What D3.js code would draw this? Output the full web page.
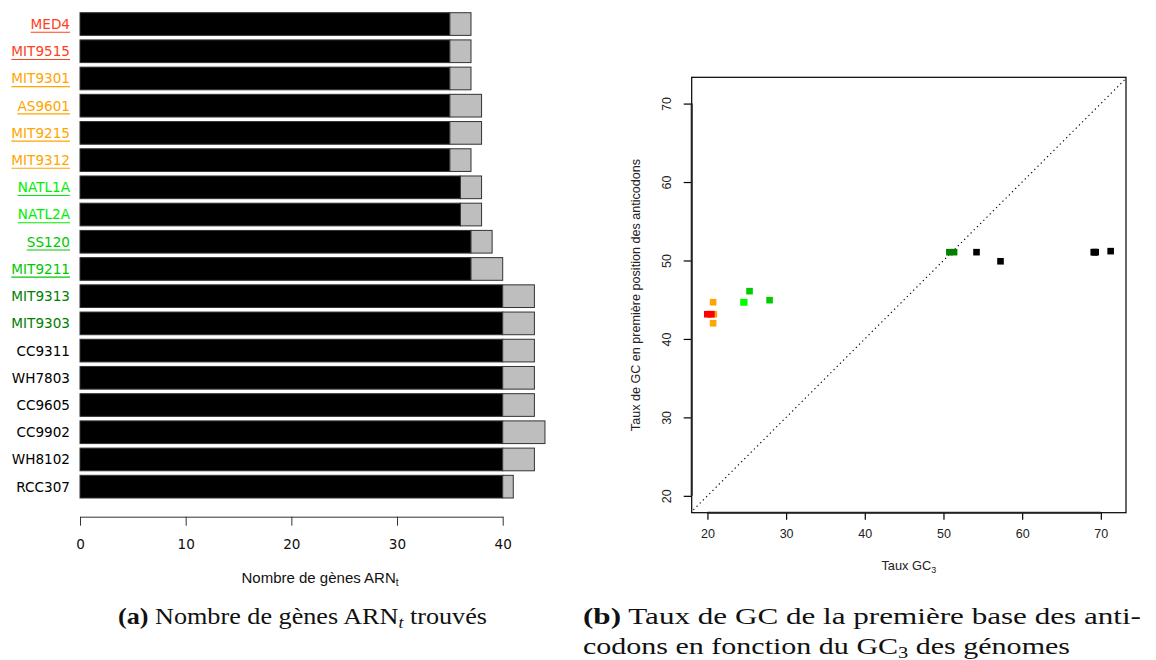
<!DOCTYPE html>
<html>
<head>
<meta charset="utf-8">
<script src="https://cdn.jsdelivr.net/npm/d3@7"></script>
<style>
  html, body { margin: 0; padding: 0; background: #fff; }
  svg { display: block; }
</style>
</head>
<body>
<svg id="chart" width="1156" height="660"></svg>
<script>
// ---------- data: panel (a) ----------
const strains = ["MED4","MIT9515","MIT9301","AS9601","MIT9215","MIT9312","NATL1A","NATL2A","SS120","MIT9211","MIT9313","MIT9303","CC9311","WH7803","CC9605","CC9902","WH8102","RCC307"];
const blackCounts = [35,35,35,35,35,35,36,36,37,37,40,40,40,40,40,40,40,40];
const greyCounts  = [2,2,2,3,3,2,2,2,2,3,3,3,3,3,3,4,3,1];
const labelColors = ["#ff4020","#ff4020","#ffa500","#ffa500","#ffa500","#ffa500","#00ee00","#00ee00","#00c800","#00c800","#008000","#008000","#000","#000","#000","#000","#000","#000"];
const underlined  = [true,true,true,true,true,true,true,true,true,true,false,false,false,false,false,false,false,false];
const barTicks = [0,10,20,30,40];

// ---------- data: panel (b) ----------
const gc3Values  = [19.98,20.5,20.72,20.3,20.81,20.72,24.58,24.68,25.35,27.9,50.75,51.35,54.2,57.25,69.1,69.35,69.22,71.25];
const gcAnticod  = [43.15,43.15,44.68,43.15,43.15,42.0,44.68,44.68,46.09,44.94,51.06,51.06,51.06,49.9,51.06,51.06,51.06,51.19];
const pointColors = ["#ff0000","#ff0000","#ffa500","#ffa500","#ffa500","#ffa500","#00ff00","#00ff00","#00cd00","#00cd00","#008000","#008000","#000","#000","#000","#000","#000","#000"];
const scatterTicks = [20,30,40,50,60,70];

const svg = d3.select("#chart");

// ================= Panel (a): horizontal stacked bars =================
const xBar = d3.scaleLinear().domain([0, 40]).range([80, 502.7]);
const yBar = d3.scaleBand().domain(strains).range([12.7, 498]).paddingInner(1/6).paddingOuter(0);

const gA = svg.append("g");
gA.selectAll("rect.black").data(strains).join("rect")
  .attr("x", xBar(0))
  .attr("y", d => yBar(d))
  .attr("width", (d,i) => xBar(blackCounts[i]) - xBar(0))
  .attr("height", yBar.bandwidth())
  .attr("fill", "#000").attr("stroke", "#333").attr("stroke-width", 1);
gA.selectAll("rect.grey").data(strains).join("rect")
  .attr("x", (d,i) => xBar(blackCounts[i]))
  .attr("y", d => yBar(d))
  .attr("width", (d,i) => xBar(blackCounts[i] + greyCounts[i]) - xBar(blackCounts[i]))
  .attr("height", yBar.bandwidth())
  .attr("fill", "#bebebe").attr("stroke", "#333").attr("stroke-width", 1);

// category labels
const lab = gA.selectAll("g.lab").data(strains).join("g")
  .attr("transform", d => `translate(70,${yBar(d) + yBar.bandwidth()/2})`);
lab.append("text")
  .attr("text-anchor", "end").attr("dy", "0.36em")
  .attr("font-family", "DejaVu Sans").attr("font-size", 13.6)
  .attr("fill", (d,i) => labelColors[i])
  .text(d => d)
  .each(function(d, i) {
    if (underlined[i]) {
      const w = this.getComputedTextLength();
      d3.select(this.parentNode).append("line")
        .attr("x1", -w).attr("x2", 0).attr("y1", 8.2).attr("y2", 8.2)
        .attr("stroke", labelColors[i]).attr("stroke-width", 1.1);
    }
  });

// x axis
const axA = gA.append("g").attr("transform", "translate(0,516.7)")
  .call(d3.axisBottom(xBar).tickValues(barTicks).tickSize(9).tickSizeOuter(0).tickPadding(14).tickFormat(d3.format("d")));
axA.select(".domain").attr("stroke", "#333");
axA.selectAll(".tick line").attr("stroke", "#333");
axA.selectAll(".tick text").attr("font-family", "DejaVu Sans").attr("font-size", 13.6).attr("fill", "#111");

const tA = gA.append("text").attr("x", 320).attr("y", 583).attr("text-anchor", "middle")
  .attr("font-family", "Liberation Sans").attr("font-size", 15).attr("fill", "#111");
tA.append("tspan").text("Nombre de gènes ARN");
tA.append("tspan").attr("font-size", 10).attr("dy", 3).text("t");

// ================= Panel (b): scatter =================
const xS = d3.scaleLinear().domain([18.0, 73.2]).range([691.7, 1126]);
const yS = d3.scaleLinear().domain([17.85, 73.35]).range([512.7, 77.3]);
const gB = svg.append("g");

gB.append("clipPath").attr("id", "plotclip").append("rect")
  .attr("x", xS.range()[0]).attr("y", yS.range()[1])
  .attr("width", xS.range()[1] - xS.range()[0]).attr("height", yS.range()[0] - yS.range()[1]);

// diagonal y = x
gB.append("line")
  .attr("clip-path", "url(#plotclip)")
  .attr("x1", xS(17)).attr("y1", yS(17)).attr("x2", xS(74)).attr("y2", yS(74))
  .attr("stroke", "#000").attr("stroke-width", 1.1).attr("stroke-dasharray", "1.3 3.2");

// points (drawn last strain first so red sits on top)
const order = d3.range(strains.length).reverse();
const sq = 6.6;
gB.selectAll("rect.pt").data(order).join("rect")
  .attr("x", i => xS(gc3Values[i]) - sq/2)
  .attr("y", i => yS(gcAnticod[i]) - sq/2)
  .attr("width", sq).attr("height", sq)
  .attr("fill", i => pointColors[i]);

// box
gB.append("rect")
  .attr("x", xS.range()[0]).attr("y", yS.range()[1])
  .attr("width", xS.range()[1] - xS.range()[0]).attr("height", yS.range()[0] - yS.range()[1])
  .attr("fill", "none").attr("stroke", "#000").attr("stroke-width", 1.2);

// bottom axis
const axBx = gB.append("g").attr("transform", `translate(0,${yS.range()[0]})`)
  .call(d3.axisBottom(xS).tickValues(scatterTicks).tickSize(7).tickSizeOuter(0).tickPadding(9).tickFormat(d3.format("d")));
axBx.select(".domain").remove();
axBx.append("line").attr("x1", xS(20)).attr("x2", xS(70)).attr("y1", 0).attr("y2", 0)
  .attr("stroke", "#222").attr("stroke-width", 2);
axBx.selectAll(".tick line").attr("stroke", "#000").attr("stroke-width", 1.2);
axBx.selectAll(".tick text").attr("font-family", "Liberation Sans").attr("font-size", 12.5).attr("fill", "#222");

// left axis
const axBy = gB.append("g").attr("transform", `translate(${xS.range()[0]},0)`)
  .call(d3.axisLeft(yS).tickValues(scatterTicks).tickSize(8).tickSizeOuter(0).tickPadding(0).tickFormat(d3.format("d")));
axBy.select(".domain").remove();
axBy.append("line").attr("x1", 0).attr("x2", 0).attr("y1", yS(20)).attr("y2", yS(70))
  .attr("stroke", "#222").attr("stroke-width", 2);
axBy.selectAll(".tick line").attr("stroke", "#000").attr("stroke-width", 1.2);
axBy.selectAll(".tick text")
  .attr("x", 0).attr("dy", null)
  .attr("text-anchor", "middle")
  .attr("transform", "translate(-21,0) rotate(-90)")
  .attr("font-family", "Liberation Sans").attr("font-size", 12.5).attr("fill", "#222");

// axis titles
const tBx = gB.append("text").attr("x", (xS.range()[0] + xS.range()[1]) / 2).attr("y", 570)
  .attr("text-anchor", "middle").attr("font-family", "Liberation Sans").attr("font-size", 12.8).attr("fill", "#222");
tBx.append("tspan").text("Taux GC");
tBx.append("tspan").attr("font-size", 9).attr("dy", 3).text("3");

gB.append("text")
  .attr("transform", `translate(640,${(yS.range()[0] + yS.range()[1]) / 2}) rotate(-90)`)
  .attr("text-anchor", "middle").attr("font-family", "Liberation Sans").attr("font-size", 12.6).attr("fill", "#222")
  .text("Taux de GC en première position des anticodons");

// ================= Captions =================
const capFont = "Liberation Serif";
const capA = svg.append("text").attr("x", 118).attr("y", 624)
  .attr("font-family", capFont).attr("font-size", 23.5).attr("fill", "#111")
  .attr("textLength", 369).attr("lengthAdjust", "spacingAndGlyphs");
capA.append("tspan").attr("font-weight", "bold").text("(a)");
capA.append("tspan").text(" Nombre de gènes ARN");
capA.append("tspan").attr("font-style", "italic").attr("font-size", 16).attr("dy", 4).text("t");
capA.append("tspan").attr("dy", -4).text(" trouvés");

const capB1 = svg.append("text").attr("x", 583).attr("y", 624)
  .attr("font-family", capFont).attr("font-size", 23.5).attr("fill", "#111")
  .attr("textLength", 558).attr("lengthAdjust", "spacingAndGlyphs");
capB1.append("tspan").attr("font-weight", "bold").text("(b)");
capB1.append("tspan").text(" Taux de GC de la première base des anti-");

const capB2 = svg.append("text").attr("x", 583).attr("y", 654)
  .attr("font-family", capFont).attr("font-size", 23.5).attr("fill", "#111")
  .attr("textLength", 487).attr("lengthAdjust", "spacingAndGlyphs");
capB2.append("tspan").text("codons en fonction du GC");
capB2.append("tspan").attr("font-size", 16).attr("dy", 4).text("3");
capB2.append("tspan").attr("dy", -4).text(" des génomes");
</script>
</body>
</html>
